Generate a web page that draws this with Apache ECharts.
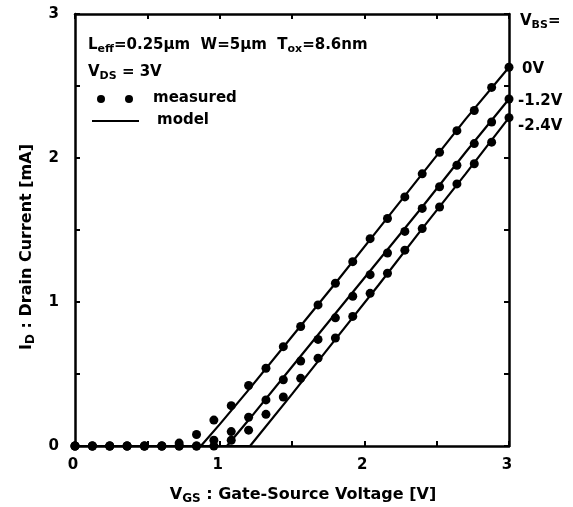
<!DOCTYPE html>
<html>
<head>
<meta charset="utf-8">
<script src="https://cdn.jsdelivr.net/npm/echarts@6/dist/echarts.min.js"></script>
<style>
  html, body { margin: 0; padding: 0; background: #fff; }
  #chart { width: 573px; height: 507px; }
</style>
</head>
<body>
<div id="chart"></div>
<script>
// gate voltage sweep of the measured points
const vgs = [0, 0.12, 0.24, 0.36, 0.48, 0.6, 0.72, 0.84, 0.96, 1.08, 1.2, 1.32, 1.44,
  1.56, 1.68, 1.8, 1.92, 2.04, 2.16, 2.28, 2.4, 2.52, 2.64, 2.76, 2.88, 3.0]
// measured drain current [mA] for VBS = 0, -1.2, -2.4 V
const meas0 = [0, 0, 0, 0, 0, 0, 0.02, 0.08, 0.18, 0.28, 0.42, 0.54, 0.69,
  0.83, 0.98, 1.13, 1.28, 1.44, 1.58, 1.73, 1.89, 2.04, 2.19, 2.33, 2.49, 2.63]
const meas12 = [0, 0, 0, 0, 0, 0, 0, 0, 0.04, 0.10, 0.20, 0.32, 0.46,
  0.59, 0.74, 0.89, 1.04, 1.19, 1.34, 1.49, 1.65, 1.80, 1.95, 2.10, 2.25, 2.41]
const meas24 = [0, 0, 0, 0, 0, 0, 0, 0, 0, 0.04, 0.11, 0.22, 0.34,
  0.47, 0.61, 0.75, 0.90, 1.06, 1.20, 1.36, 1.51, 1.66, 1.82, 1.96, 2.11, 2.28]

// model curves
const modelX0 = [0, 0.87, 1.0, 1.2, 1.5, 1.8, 2.1, 2.4, 2.7, 3.0]
const model0 = [0, 0, 0.15, 0.39, 0.76, 1.13, 1.51, 1.89, 2.27, 2.63]
const modelX12 = [0, 1.05, 1.2, 1.5, 1.8, 2.1, 2.4, 2.7, 3.0]
const model12 = [0, 0, 0.18, 0.55, 0.92, 1.29, 1.66, 2.04, 2.41]
const modelX24 = [0, 1.21, 1.5, 1.8, 2.1, 2.4, 2.7, 3.0]
const model24 = [0, 0, 0.36, 0.74, 1.12, 1.51, 1.89, 2.28]

const xTicks = ['0', '1', '2', '3']
const yTicks = ['0', '1', '2', '3']
const vbsLabels = ['0V', '-1.2V', '-2.4V']

const FONT = '"DejaVu Sans", "Liberation Sans", Arial, sans-serif'
const pairs = (xs, ys) => xs.map((x, i) => [x, ys[i]])

const chart = echarts.init(document.getElementById('chart'), null, { renderer: 'canvas' })

const rich = {
  m: { fontFamily: FONT, fontWeight: 'bold', fontSize: 15, lineHeight: 18, color: '#000' },
  s: { fontFamily: FONT, fontWeight: 'bold', fontSize: 11, lineHeight: 17, verticalAlign: 'bottom', color: '#000' }
}
const richBig = {
  m: { fontFamily: FONT, fontWeight: 'bold', fontSize: 16, lineHeight: 19, color: '#000' },
  s: { fontFamily: FONT, fontWeight: 'bold', fontSize: 12, lineHeight: 18, verticalAlign: 'bottom', color: '#000' }
}

function axisBase(show, labels) {
  return {
    type: 'value',
    min: 0,
    max: 3,
    interval: 0.5,
    splitLine: { show: false },
    axisLine: { show: true, onZero: false, lineStyle: { color: '#000', width: 2.5 } },
    axisTick: { show: true, inside: true, length: 5, lineStyle: { color: '#000', width: 2 } },
    axisLabel: {
      show: show,
      fontFamily: FONT,
      fontWeight: 'bold',
      fontSize: 15,
      color: '#000',
      formatter: v => (Number.isInteger(v) && labels ? labels[v] : '')
    }
  }
}

function scatter(ys) {
  return {
    name: 'measured',
    type: 'scatter',
    data: pairs(vgs, ys),
    symbol: 'circle',
    symbolSize: 9,
    clip: false,
    itemStyle: { color: '#000', opacity: 1 },
    z: 3
  }
}

function model(xs, ys) {
  return {
    name: 'model',
    type: 'line',
    data: pairs(xs, ys),
    showSymbol: false,
    smooth: false,
    lineStyle: { color: '#000', width: 2.2 },
    z: 2
  }
}

const textStyle = { fontFamily: FONT, fontWeight: 'bold', fontSize: 15, fill: '#000' }

const xBottom = axisBase(true, xTicks)
xBottom.position = 'bottom'
xBottom.axisLabel.margin = 12
xBottom.axisLabel.padding = [0, 4, 0, 0]

const xTop = axisBase(false)
xTop.position = 'top'

const yLeft = axisBase(true, yTicks)
yLeft.position = 'left'
yLeft.axisLabel.margin = 16
yLeft.axisLabel.padding = [5, 0, 0, 0]

const yRight = axisBase(false)
yRight.position = 'right'

chart.setOption({
  animation: false,
  backgroundColor: '#fff',
  grid: { left: 75, top: 14, width: 434, height: 432 },
  xAxis: [xBottom, xTop],
  yAxis: [yLeft, yRight],
  series: [
    model(modelX0, model0),
    model(modelX12, model12),
    model(modelX24, model24),
    scatter(meas0),
    scatter(meas12),
    scatter(meas24)
  ],
  graphic: [
    {
      type: 'text', x: 303, y: 495,
      style: { text: '{m|V}{s|GS}{m| : Gate-Source Voltage [V]}', rich: richBig, align: 'center', verticalAlign: 'middle' }
    },
    {
      type: 'text', x: 27, y: 247, rotation: Math.PI / 2,
      style: { text: '{m|I}{s|D}{m| : Drain Current [mA]}', rich: richBig, align: 'center', verticalAlign: 'middle' }
    },
    {
      type: 'text', left: 88, top: 38,
      style: { text: '{m|L}{s|eff}{m|=0.25µm  W=5µm  T}{s|ox}{m|=8.6nm}', rich: rich }
    },
    {
      type: 'text', left: 88, top: 65,
      style: { text: '{m|V}{s|DS}{m| = 3V}', rich: rich }
    },
    { type: 'circle', shape: { cx: 101, cy: 99, r: 4 }, style: { fill: '#000' } },
    { type: 'circle', shape: { cx: 129, cy: 99, r: 4 }, style: { fill: '#000' } },
    { type: 'text', left: 153, top: 91, style: Object.assign({ text: 'measured' }, textStyle) },
    { type: 'line', shape: { x1: 92, y1: 121, x2: 139, y2: 121 }, style: { stroke: '#000', lineWidth: 2.2 } },
    { type: 'text', left: 157, top: 113, style: Object.assign({ text: 'model' }, textStyle) },
    {
      type: 'text', left: 520, top: 14,
      style: { text: '{m|V}{s|BS}{m|=}', rich: rich }
    },
    { type: 'text', left: 522, top: 62, style: Object.assign({ text: vbsLabels[0] }, textStyle) },
    { type: 'text', left: 518, top: 94, style: Object.assign({ text: vbsLabels[1] }, textStyle) },
    { type: 'text', left: 518, top: 119, style: Object.assign({ text: vbsLabels[2] }, textStyle) }
  ]
})
</script>
</body>
</html>
